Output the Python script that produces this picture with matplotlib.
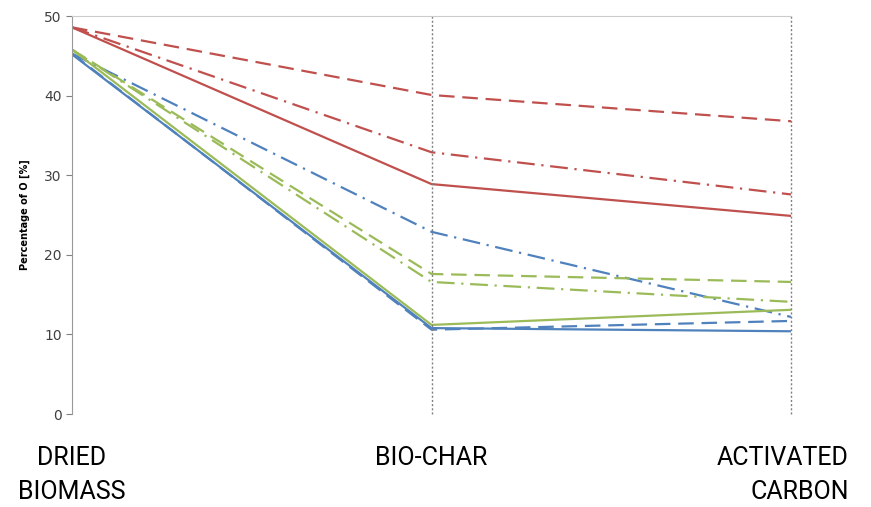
import matplotlib
matplotlib.use("Agg")
import matplotlib.pyplot as plt
import matplotlib.transforms as mtrans

stages = ["DRIED\nBIOMASS", "BIO-CHAR", "ACTIVATED\nCARBON"]
x = [0, 1, 2]

red_dash = [48.6, 40.1, 36.8]
red_dashdot = [48.6, 32.9, 27.6]
red_solid = [48.6, 28.9, 24.9]
blue_dashdot = [45.3, 22.9, 12.2]
green_dash = [45.8, 17.6, 16.6]
green_dashdot = [45.8, 16.6, 14.1]
green_solid = [45.8, 11.2, 13.1]
blue_dash = [45.3, 10.6, 11.7]
blue_solid = [45.2, 10.8, 10.4]

RED = "#C0504D"
BLUE = "#4F81BD"
GREEN = "#9BBB59"
dash = (0, (7, 3.5))
dashdot = (0, (8, 3, 1, 3))

fig = plt.figure(figsize=(8.71, 5.07), dpi=100)
ax = fig.add_axes([0.0827, 0.1834, 0.8255, 0.7846])

series = [
    (blue_solid, BLUE, "-"),
    (blue_dash, BLUE, dash),
    (blue_dashdot, BLUE, dashdot),
    (green_solid, GREEN, "-"),
    (green_dash, GREEN, dash),
    (green_dashdot, GREEN, dashdot),
    (red_solid, RED, "-"),
    (red_dash, RED, dash),
    (red_dashdot, RED, dashdot),
]
for vals, col, ls in series:
    ax.plot(x, vals, color=col, linestyle=ls, linewidth=1.6)

for xv in x[1:]:
    ax.axvline(xv, color="#808080", linestyle=(0, (1.5, 1.5)), linewidth=1.0,
               clip_on=False)

ax.set_xlim(0, 2)
ax.set_ylim(0, 50)
ax.set_yticks(range(0, 51, 10))
ax.set_xticks([])
ax.tick_params(axis="y", colors="#808080", labelcolor="#404040", labelsize=10,
               length=4, direction="out")
for s in ["right", "bottom"]:
    ax.spines[s].set_visible(False)
ax.spines["left"].set_color("#999999")
ax.spines["top"].set_color("#CCCCCC")
ax.set_ylabel("Percentage of O [%]", fontsize=7, fontweight="bold", labelpad=10)

fam = ["Roboto", "DejaVu Sans"]
trans = mtrans.blended_transform_factory(ax.transData, ax.transAxes)
ax.text(x[0], -0.08, stages[0], transform=trans, ha="center", va="top",
        multialignment="center", fontsize=18, family=fam, linespacing=1.55)
ax.text(x[1], -0.08, stages[1], transform=trans, ha="center", va="top",
        fontsize=18, family=fam)
ax.text(x[2] + 0.16, -0.08, stages[2], transform=trans, ha="right", va="top",
        multialignment="right", fontsize=18, family=fam, linespacing=1.55)

fig.savefig("out.png", dpi=100)
